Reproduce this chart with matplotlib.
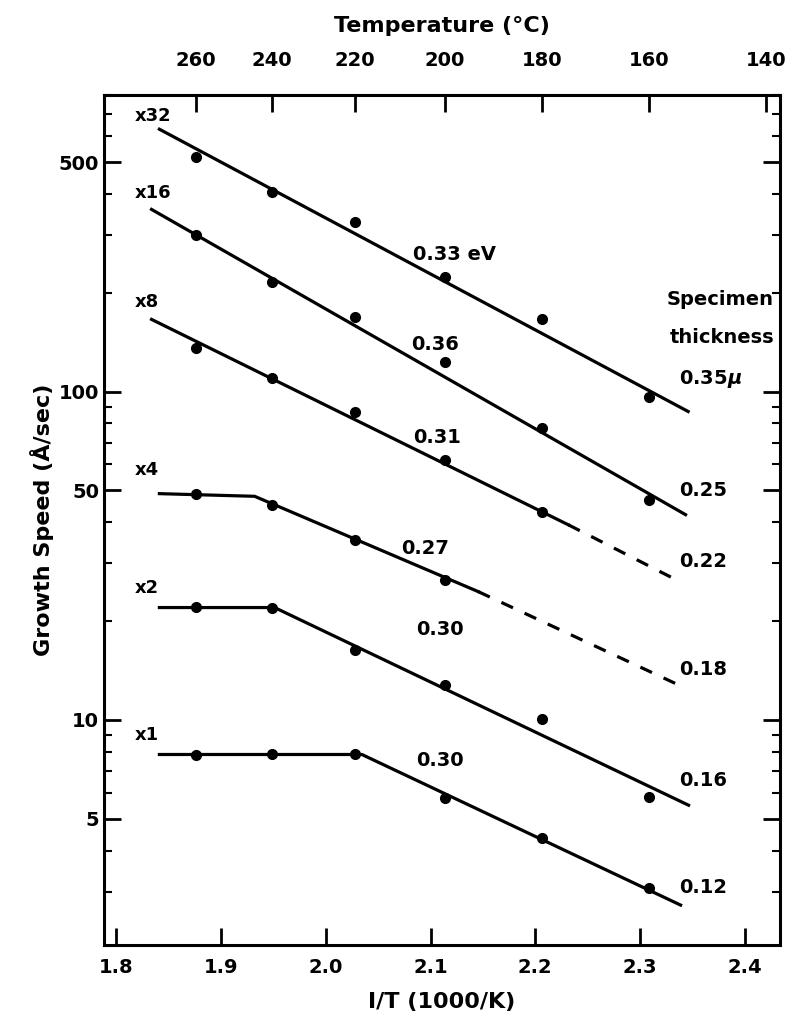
import numpy as np
import matplotlib
matplotlib.use("Agg")
import matplotlib.pyplot as plt
from matplotlib.ticker import FixedLocator, NullFormatter

plt.rcParams['font.family'] = ['DejaVu Sans']
plt.rcParams['font.weight'] = 'bold'

# measurement temperatures (degC) -> 1/T
temps_c = np.array([260, 240, 220, 200, 180, 160])
inv_t = 1000.0 / (temps_c + 273.15)

# growth speed points for each specimen (A/sec, already multiplied)
s32 = [520, 407, 328, 224, 167, 96]
s16 = [299, 216, 169, 123, 77.6, 46.9]
s8 = [136, 110, 86.9, 62, 43]
s4 = [48.9, 45.2, 35.4, 26.7]
s2 = [22.1, 21.9, 16.3, 12.8, 10.1, 5.82]
s1 = [7.81, 7.85, 7.85, 5.78, 4.36, 3.08]

# fitted lines (x, y) and dashed extrapolations
fit32_x, fit32_y = [1.841, 2.346], [630, 87]
fit16_x, fit16_y = [1.8335, 2.3435], [359, 42.2]
fit8_x, fit8_y = [1.8335, 2.2316], [166, 39.3]
ext8_x, ext8_y = [2.2316, 2.3388], [39.3, 26.3]
fit4_x, fit4_y = [1.841, 1.932, 2.1455], [48.9, 48.0, 24.6]
ext4_x, ext4_y = [2.1455, 2.3388], [24.6, 12.7]
fit2_x, fit2_y = [1.841, 1.951, 2.3464], [22.0, 22.0, 5.5]
fit1_x, fit1_y = [1.841, 2.0344, 2.3388], [7.85, 7.85, 2.73]

factors = ['x32', 'x16', 'x8', 'x4', 'x2', 'x1']
factor_y = [693, 404, 188, 57.8, 25.2, 9.0]
energies = ['0.33 eV', '0.36', '0.31', '0.27', '0.30', '0.30']
energy_xy = [(2.123, 262), (2.104, 139), (2.106, 72.4), (2.095, 33.4), (2.109, 18.8), (2.109, 7.55)]
thick = ['0.35$\\mu$', '0.25', '0.22', '0.18', '0.16', '0.12']
thick_y = [109, 49.9, 30.3, 14.2, 6.56, 3.08]

fig = plt.figure(figsize=(7.93, 10.23), dpi=100)
ax = fig.add_axes([0.131, 0.076, 0.853, 0.831])

lw = 2.3
for xs, ys in [(fit32_x, fit32_y), (fit16_x, fit16_y), (fit8_x, fit8_y),
               (fit4_x, fit4_y), (fit2_x, fit2_y), (fit1_x, fit1_y)]:
    ax.plot(xs, ys, color='black', lw=lw)
for xs, ys in [(ext8_x, ext8_y), (ext4_x, ext4_y)]:
    ax.plot(xs, ys, color='black', lw=lw, ls=(0, (4, 4)))

for s in [s32, s16, s8, s4, s2, s1]:
    ax.plot(inv_t[:len(s)], s, 'o', color='black', ms=7)

for lab, y in zip(factors, factor_y):
    ax.text(1.817, y, lab, fontsize=13, va='center', ha='left', fontweight='bold')
for lab, (x, y) in zip(energies, energy_xy):
    ax.text(x, y, lab, fontsize=14, va='center', ha='center', fontweight='bold')
for lab, y in zip(thick, thick_y):
    ax.text(2.337, y, lab, fontsize=14, va='center', ha='left', fontweight='bold')
ax.text(2.428, 191, 'Specimen', fontsize=14, ha='right', va='center', fontweight='bold')
ax.text(2.428, 146, 'thickness', fontsize=14, ha='right', va='center', fontweight='bold')

ax.set_yscale('log')
ax.set_xlim(1.788, 2.434)
ax.set_ylim(2.06, 800)

majors = [5, 10, 50, 100, 500]
ax.yaxis.set_major_locator(FixedLocator(majors))
ax.set_yticklabels([str(m) for m in majors])
minors = [m * d for d in [1, 10, 100] for m in range(2, 10) if m * d not in majors]
ax.yaxis.set_minor_locator(FixedLocator(minors))
ax.yaxis.set_minor_formatter(NullFormatter())

ax.set_xticks([1.8, 1.9, 2.0, 2.1, 2.2, 2.3, 2.4])
ax.set_xticklabels(['1.8', '1.9', '2.0', '2.1', '2.2', '2.3', '2.4'])

ax.tick_params(axis='both', which='major', direction='in', length=12, width=2,
               labelsize=14, right=True)
ax.tick_params(axis='x', which='major', pad=9)
ax.tick_params(axis='y', which='minor', direction='in', length=6, width=1.5, right=True)
for sp in ax.spines.values():
    sp.set_linewidth(2.2)

ax.set_xlabel('I/T (1000/K)', fontsize=16, fontweight='bold', labelpad=11)
ax.set_ylabel('Growth Speed (Å/sec)', fontsize=16, fontweight='bold', labelpad=3)

top = ax.twiny()
top.set_xlim(ax.get_xlim())
top_temps = [260, 240, 220, 200, 180, 160, 140]
top.set_xticks([1000.0 / (t + 273.15) for t in top_temps])
top.set_xticklabels([str(t) for t in top_temps])
top.tick_params(axis='x', direction='in', length=12, width=2, labelsize=14, pad=18)
top.set_xlabel('Temperature (°C)', fontsize=16, fontweight='bold', labelpad=14)

fig.savefig('out.png', dpi=100)
